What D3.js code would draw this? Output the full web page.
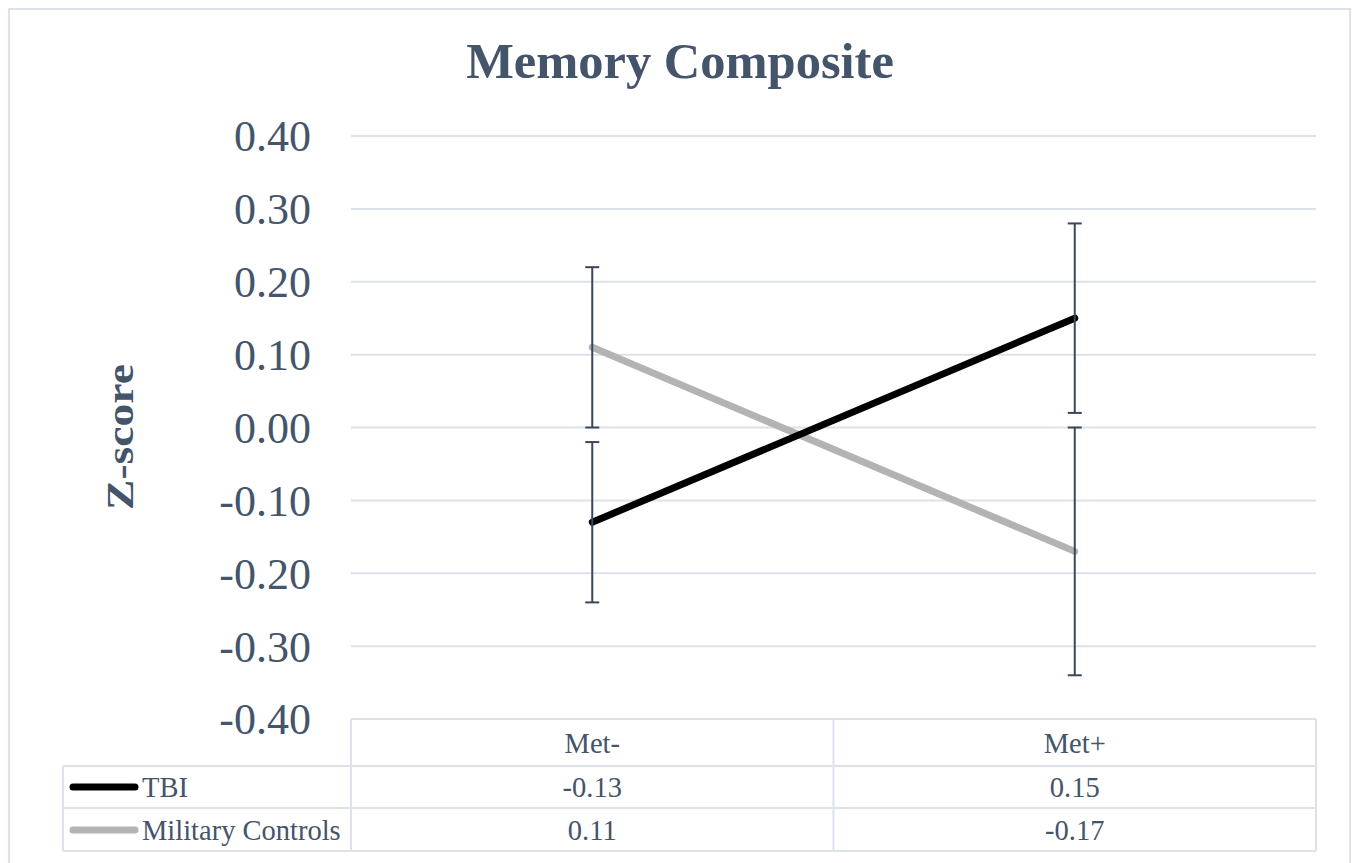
<!DOCTYPE html>
<html><head><meta charset="utf-8">
<script src="https://cdn.jsdelivr.net/npm/d3@7"></script>
<style>html,body{margin:0;padding:0;background:#fff;}svg{display:block;}</style>
</head><body>
<svg id="c" width="1354" height="863"></svg>
<script>
const categories = ["Met-", "Met+"];
const seriesNames = ["TBI", "Military Controls"];
const tbiValues = [-0.13, 0.15];
const tbiLow = [-0.24, 0.02];
const tbiHigh = [-0.02, 0.28];
const mcValues = [0.11, -0.17];
const mcLow = [0.00, -0.34];
const mcHigh = [0.22, 0.00];
const yTicks = [0.40, 0.30, 0.20, 0.10, 0.00, -0.10, -0.20, -0.30, -0.40];
const seriesColors = ["#000000", "#b3b3b3"];

const series = [
  {name: seriesNames[0], values: tbiValues, low: tbiLow, high: tbiHigh, color: seriesColors[0]},
  {name: seriesNames[1], values: mcValues, low: mcLow, high: mcHigh, color: seriesColors[1]}
];

const svg = d3.select("#c");
const textColor = "#44546a";
const gridColor = "#dde2ea";
const serif = "'Liberation Serif', 'Times New Roman', serif";
const fmt = d => d3.format(".2f")(d).replace("−", "-");

// outer border
svg.append("rect").attr("x", 9).attr("y", 9).attr("width", 1341).attr("height", 870)
  .attr("fill", "none").attr("stroke", gridColor).attr("stroke-width", 2);

const plotL = 351, plotR = 1316, plotT = 136, plotB = 719;
const x = d3.scaleBand().domain(categories).range([plotL, plotR]);
const y = d3.scaleLinear().domain([-0.4, 0.4]).range([plotB, plotT]);

// title
svg.append("text").attr("x", 680).attr("y", 78).attr("text-anchor", "middle")
  .attr("font-family", serif).attr("font-weight", "bold").attr("font-size", 50.5)
  .attr("fill", textColor).text("Memory Composite");

// gridlines
svg.append("g").selectAll("line").data(yTicks.filter(t => t > -0.4)).join("line")
  .attr("x1", plotL).attr("x2", plotR)
  .attr("y1", d => y(d)).attr("y2", d => y(d))
  .attr("stroke", gridColor).attr("stroke-width", 2);

// y axis labels
const yAxis = d3.axisLeft(y).tickValues(yTicks).tickFormat(fmt).tickSize(0).tickPadding(40);
const ya = svg.append("g").attr("transform", `translate(${plotL},0)`).call(yAxis);
ya.select(".domain").remove();
ya.selectAll("text").attr("font-family", serif).attr("font-size", 44).attr("fill", textColor)
  .attr("dy", "0.34em");

// y axis title
svg.append("text").attr("transform", `translate(133,437) rotate(-90)`).attr("text-anchor", "middle")
  .attr("font-family", serif).attr("font-weight", "bold").attr("font-size", 38)
  .attr("textLength", 146).attr("lengthAdjust", "spacingAndGlyphs")
  .attr("fill", textColor).text("Z-score");

// table grid
const rowTop = 719, row1 = 766, row2 = 808, rowBot = 851, tableL = 63;
const tg = svg.append("g").attr("stroke", gridColor).attr("stroke-width", 2).attr("fill", "none");
tg.append("line").attr("x1", plotL).attr("x2", plotR).attr("y1", rowTop).attr("y2", rowTop);
tg.append("line").attr("x1", tableL).attr("x2", plotR).attr("y1", row1).attr("y2", row1);
tg.append("line").attr("x1", tableL).attr("x2", plotR).attr("y1", row2).attr("y2", row2);
tg.append("line").attr("x1", tableL).attr("x2", plotR).attr("y1", rowBot).attr("y2", rowBot);
tg.append("line").attr("x1", tableL).attr("x2", tableL).attr("y1", row1).attr("y2", rowBot);
[plotL, plotL + x.bandwidth(), plotR].forEach(xx => {
  tg.append("line").attr("x1", xx).attr("x2", xx).attr("y1", rowTop).attr("y2", rowBot);
});

// header
const tableFont = 28.5;
svg.append("g").selectAll("text").data(categories).join("text")
  .attr("x", d => x(d) + x.bandwidth() / 2).attr("y", 753).attr("text-anchor", "middle")
  .attr("font-family", serif).attr("font-size", tableFont).attr("fill", textColor).text(d => d);

// rows
const rowY = [797, 840];
series.forEach((s, i) => {
  svg.append("line").attr("x1", 73).attr("x2", 135).attr("y1", rowY[i] - 10).attr("y2", rowY[i] - 10)
    .attr("stroke", s.color).attr("stroke-width", 7).attr("stroke-linecap", "round");
  svg.append("text").attr("x", 142).attr("y", rowY[i]).attr("font-family", serif).attr("font-size", tableFont)
    .attr("fill", textColor).text(s.name);
  svg.append("g").selectAll("text").data(s.values).join("text")
    .attr("x", (d, j) => x(categories[j]) + x.bandwidth() / 2).attr("y", rowY[i]).attr("text-anchor", "middle")
    .attr("font-family", serif).attr("font-size", tableFont).attr("fill", textColor).text(fmt);
});

// lines
const line = d3.line().x((d, j) => x(categories[j]) + x.bandwidth() / 2).y(d => y(d));
[1, 0].forEach(i => {
  const s = series[i];
  svg.append("path").datum(s.values).attr("d", line).attr("fill", "none")
    .attr("stroke", s.color).attr("stroke-width", 7).attr("stroke-linecap", "round");
});

// error bars
const ebColor = "#3b4658";
series.forEach(s => {
  const g = svg.append("g").attr("stroke", ebColor).attr("stroke-width", 2);
  categories.forEach((c, j) => {
    const cx = x(c) + x.bandwidth() / 2;
    g.append("line").attr("x1", cx).attr("x2", cx).attr("y1", y(s.low[j])).attr("y2", y(s.high[j]));
    [s.low[j], s.high[j]].forEach(v => {
      g.append("line").attr("x1", cx - 7).attr("x2", cx + 7).attr("y1", y(v)).attr("y2", y(v));
    });
  });
});
</script>
</body></html>
